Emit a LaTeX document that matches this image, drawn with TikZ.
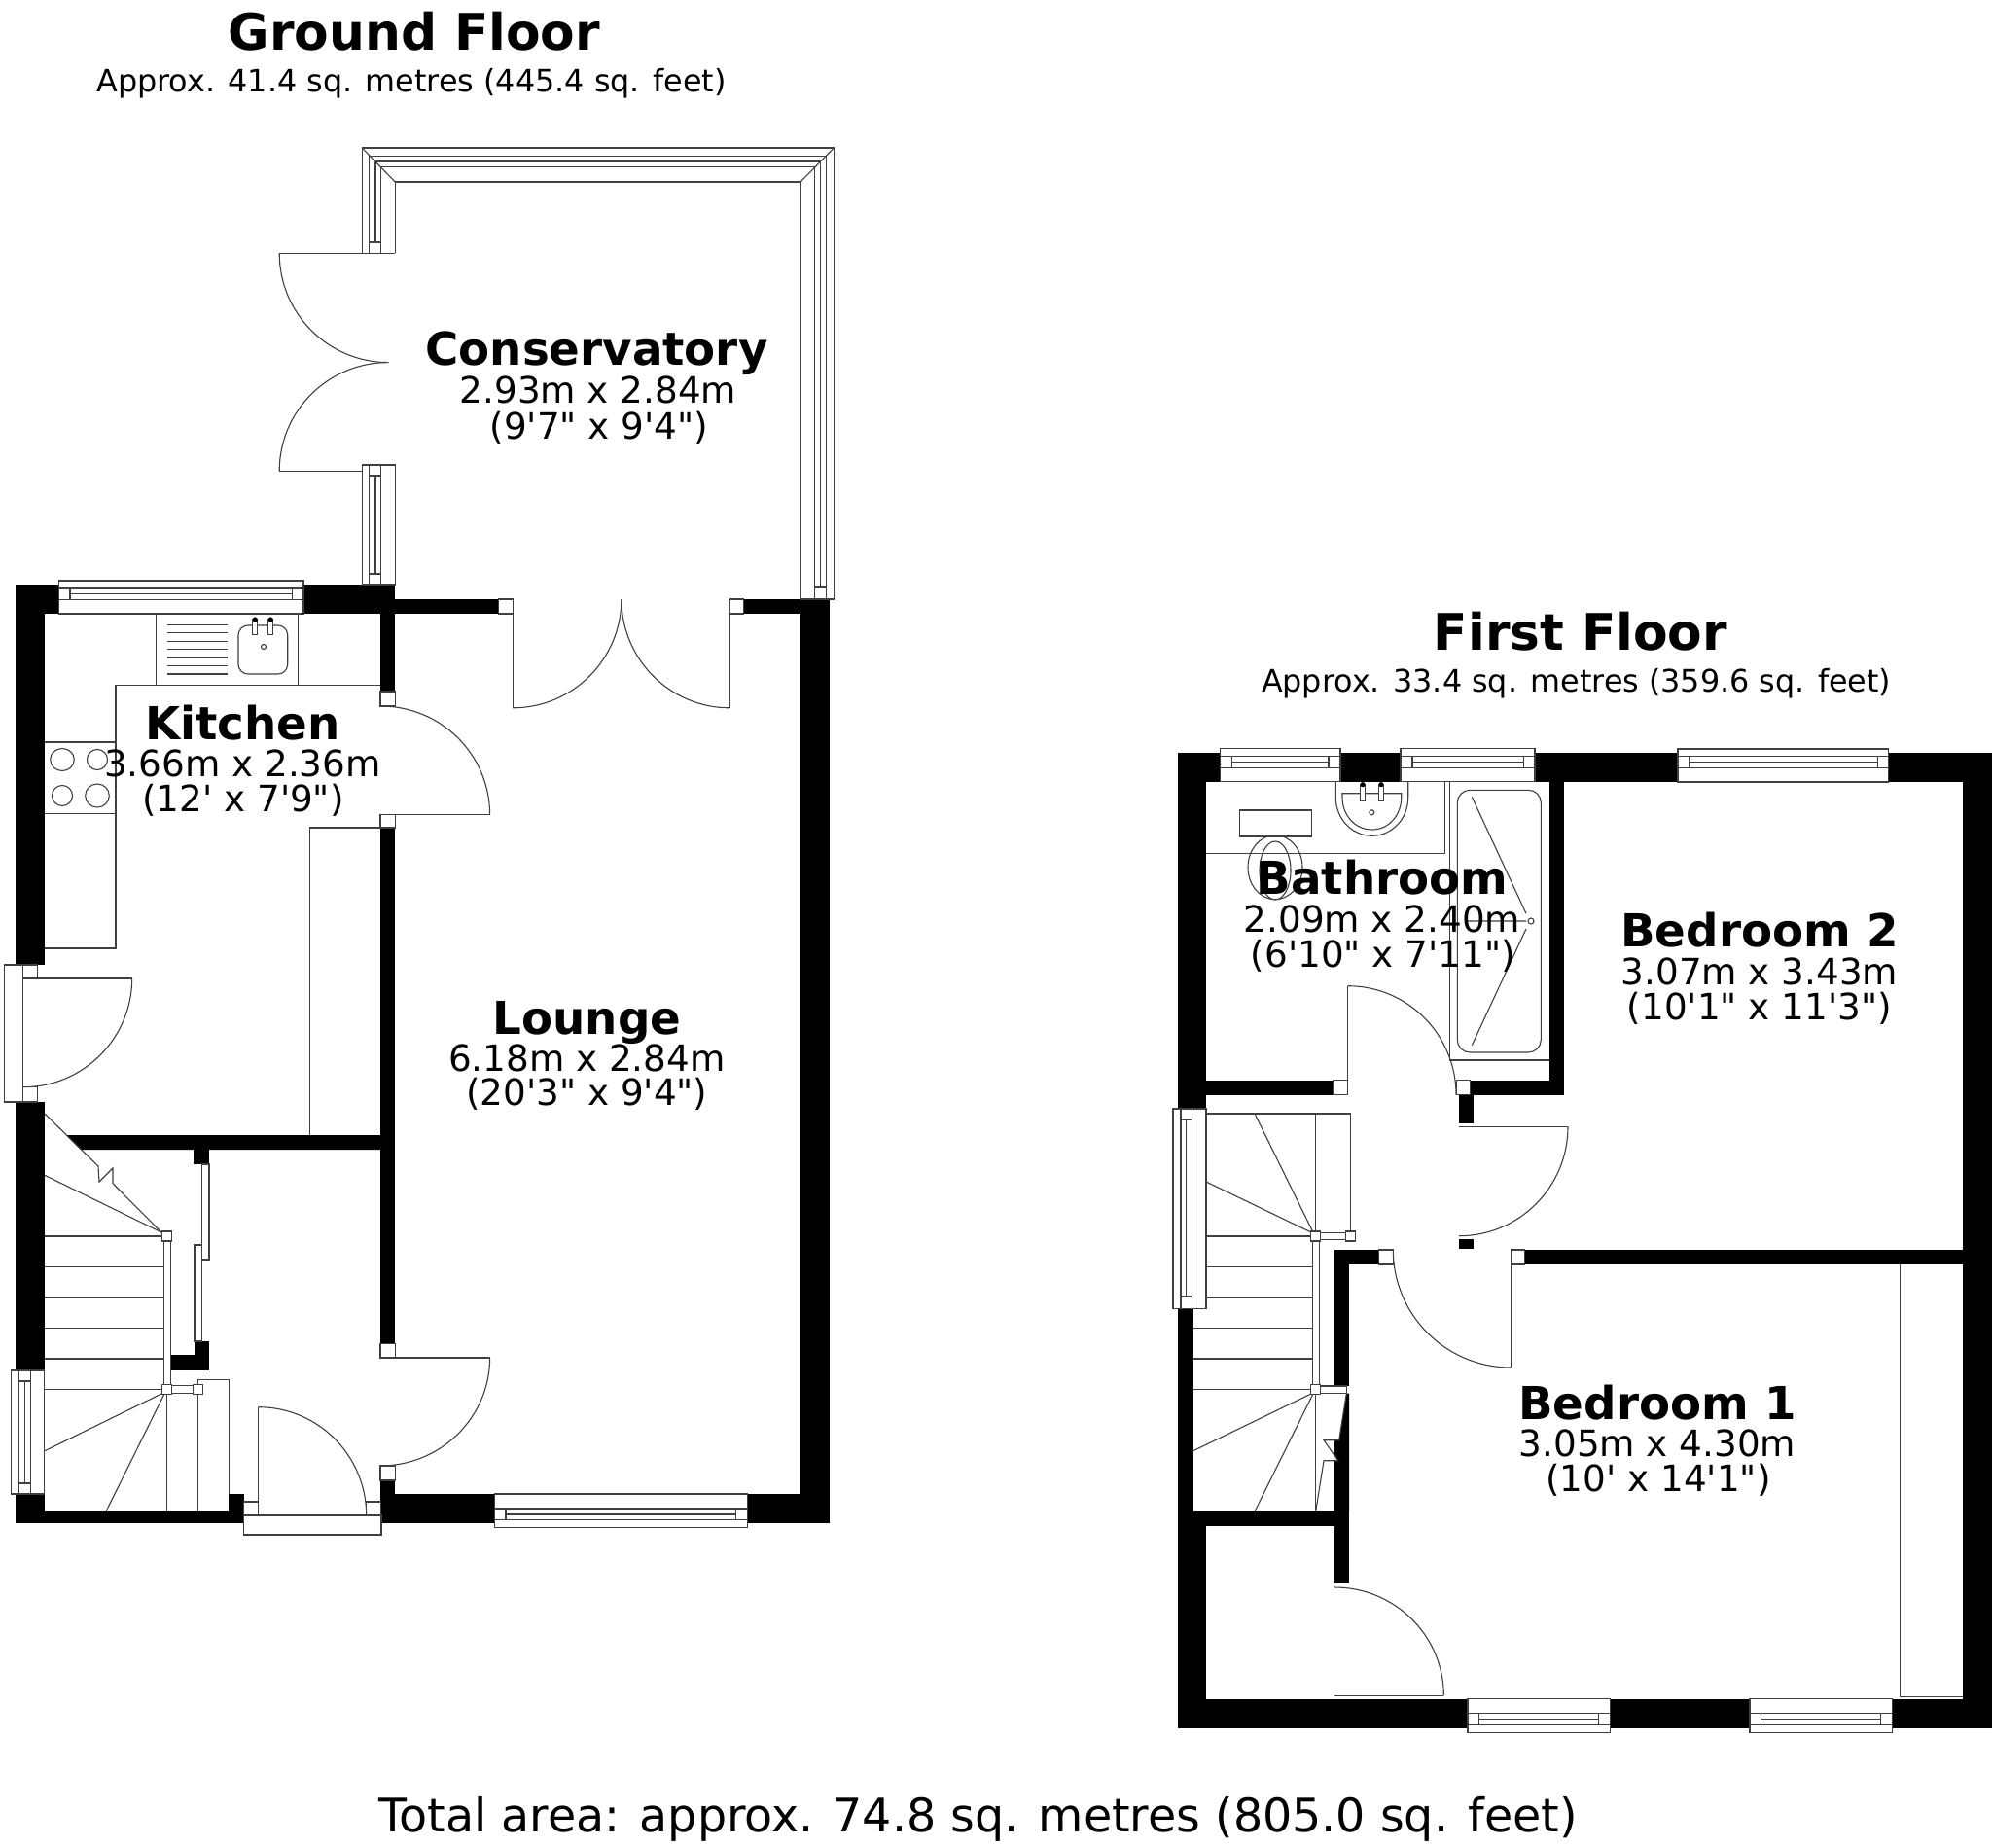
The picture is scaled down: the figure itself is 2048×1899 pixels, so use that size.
\documentclass[tikz,border=0pt]{standalone}
\usepackage{fontspec}
\usetikzlibrary{calc}
\newfontfamily\planfont{DejaVu Sans}
\definecolor{linecol}{gray}{0.25}
\tikzset{
  x=0.5pt,y=-0.5pt,
  ln/.style={line width=0.55pt,draw=linecol},
  wall/.style={fill=black,draw=none},
  white box/.style={ln,fill=white},
  roomname/.style={anchor=base,inner sep=0pt,font=\planfont\bfseries\fontsize{23.35pt}{25pt}\selectfont},
  roomdim/.style={anchor=base,inner sep=0pt,font=\planfont\fontsize{18.65pt}{20pt}\selectfont},
  floorname/.style={anchor=base,inner sep=0pt,font=\planfont\bfseries\fontsize{25.9pt}{28pt}\selectfont},
  floorarea/.style={anchor=base,inner sep=0pt,font=\planfont\fontsize{15.9pt}{18pt}\selectfont},
  totalarea/.style={anchor=base,inner sep=0pt,font=\planfont\fontsize{23.76pt}{25pt}\selectfont},
}
% quarter arc from P to Q around centre C
\newcommand{\qarc}[3]{\draw[ln] (#1) .. controls ($(#1)+0.5523*(#3)-0.5523*(#2)$) and ($(#3)+0.5523*(#1)-0.5523*(#2)$) .. (#3);}
\newcommand{\wrect}[4]{\draw[white box] (#1,#2) rectangle (#3,#4);}
\newcommand{\brect}[4]{\fill[wall] (#1,#2) rectangle (#3,#4);}
% horizontal window: x0 x1 top bot l1 l2 mid ix0 ix1
\newcommand{\winh}[9]{\draw[white box] (#1,#3) rectangle (#2,#4);
  \draw[ln] (#1,#5)--(#2,#5) (#1,#6)--(#2,#6) (#8,#5)--(#8,#6) (#9,#5)--(#9,#6) (#8,#7)--(#9,#7);}
% vertical window: y0 y1 left right l1 l2 mid iy0 iy1
\newcommand{\winv}[9]{\draw[white box] (#3,#1) rectangle (#4,#2);
  \draw[ln] (#5,#1)--(#5,#2) (#6,#1)--(#6,#2) (#5,#8)--(#6,#8) (#5,#9)--(#6,#9) (#7,#8)--(#7,#9);}
\newcommand{\newel}[2]{\draw[white box] ($(#1,#2)+(-5,-5)$) rectangle ($(#1,#2)+(5,5)$);}
\newcommand{\tap}[3]{\draw[white box] (#1-2.5,#2) rectangle (#1+2.5,#3); \fill[black] (#1,#2) circle[radius=2.6];}
\begin{document}
\begin{tikzpicture}
\useasboundingbox (0,0) rectangle (2048,1899);
\fill[white] (0,0) rectangle (2048,1899);

%% ---------- GROUND FLOOR walls
\brect{16}{601}{46}{992}
\brect{16}{601}{60.3}{631}
\brect{312}{601}{406.2}{631}
\brect{406}{616}{512.2}{631}
\brect{391}{631}{406.2}{711}
\brect{391}{851}{406.2}{1381.7}
\fill[wall] (68,1167)--(391,1167)--(391,1182)--(83,1182)--cycle;
\brect{16}{1133}{46}{1409}
\brect{16}{1536}{46}{1566}
\brect{16}{1554}{250.7}{1566}
\brect{235}{1536}{250.7}{1566}
\brect{391}{1522}{406.2}{1566}
\brect{391}{1536}{508.3}{1566}
\brect{768.3}{1536}{852.9}{1566}
\brect{823}{616}{852.9}{1566}
\brect{764.8}{616}{852.9}{631}
\brect{199.3}{1182}{215}{1197}
\brect{200}{1379}{215}{1408.7}
\brect{175.7}{1393}{215}{1408.7}

%% conservatory frame
\draw[ln] (372.2,260.4)--(372.2,152)--(857.4,152)--(857.4,616)--(823,616);
\draw[ln] (379.8,260.4)--(379.8,160.4)--(849.8,160.4)--(849.8,616);
\draw[ln] (391.7,260.4)--(391.7,171.8)--(837.5,171.8)--(837.5,616);
\draw[ln] (406.2,260.4)--(406.2,187)--(823,187)--(823,616);
\draw[ln] (386,249)--(386,166)--(843.5,166)--(843.5,604);
\draw[ln] (372.2,152)--(406.2,187) (857.4,152)--(823,187);
\draw[ln] (379.8,249)--(391.7,249) (837.5,604)--(849.8,604);
\winv{478}{601}{372.2}{406.2}{379.8}{391.7}{386}{489}{590}
\draw[ln] (287.2,260.4)--(406.2,260.4) (287.2,484.2)--(372.2,484.2);
\qarc{287.2,260.4}{399.4,260.4}{399.4,372.6}
\qarc{287.2,484.2}{399.4,484.2}{399.4,372.6}

%% lounge french doors
\wrect{512.2}{616}{527.2}{631}
\wrect{750.3}{616}{764.8}{631}
\draw[ln] (527.2,616)--(527.2,727.8) (750.3,616)--(750.3,727.8);
\qarc{527.2,727.8}{527.2,616}{638.9,616}
\qarc{750.3,727.8}{750.3,616}{638.9,616}

%% kitchen units
\draw[ln] (391,704.4)--(119,704.4)--(119,975)--(46,975);
\draw[ln] (46,763)--(119,763) (46,836.4)--(119,836.4);
\draw[ln] (64,781) circle[x radius=12.3,y radius=11.5];
\draw[ln] (100,781) circle[x radius=10.5,y radius=10.5];
\draw[ln] (64,818) circle[x radius=10.5,y radius=10.5];
\draw[ln] (100,818) circle[x radius=12.3,y radius=12];
\draw[ln] (160.3,631)--(160.3,704.4) (306.7,631)--(306.7,704.4);
\foreach \yy in {642.4,650.8,659.2,667.6,676,684.4,693}{\draw[ln] (172,\yy)--(234,\yy);}
\draw[ln,rounded corners=5pt] (245,643) rectangle (295.7,693);
\tap{262.3}{637}{652.7}
\tap{278.3}{637}{652.7}
\draw[ln] (271,665) circle[radius=2.5];
\draw[ln] (318.3,1167)--(318.3,851)--(391,851);

%% kitchen window
\winh{60.3}{312}{597}{631}{605}{616.7}{610.8}{72}{300.7}

%% kitchen door
\wrect{391}{711}{406.2}{726}
\wrect{391}{837.6}{406.2}{851}
\draw[ln] (391,837.6)--(503.6,837.6);
\qarc{391,726}{391,838}{503.6,837.6}

%% back door
\wrect{4.3}{992}{23.7}{1133}
\wrect{23.7}{992}{38.3}{1006}
\wrect{23.7}{1117.7}{38.3}{1133}
\draw[ln] (23.7,1006)--(135.7,1006);
\qarc{135.7,1006}{23.7,1006}{23.7,1117.7}

%% lounge door from hall
\wrect{391}{1381.7}{406.2}{1396}
\wrect{391}{1507}{406.2}{1522}
\draw[ln] (391,1396)--(503.6,1396);
\qarc{503.6,1396}{391,1396}{391,1507}

%% front door
\wrect{250.7}{1558}{392}{1578}
\wrect{250.7}{1544}{265.7}{1558}
\wrect{376.7}{1544}{391.7}{1558}
\draw[ln] (265.7,1558)--(265.7,1446.7);
\qarc{265.7,1446.7}{265.7,1558}{376.7,1558}

%% lounge window
\winh{508.3}{768.3}{1536}{1570.7}{1551}{1562.7}{1557}{520}{756.7}

%% sliding door
\wrect{207.3}{1197}{215}{1295}
\wrect{200}{1280}{207.3}{1379}

%% ground stairs
\foreach \yy in {1271,1302.7,1334,1365.7,1397,1428.7}{\draw[ln] (46,\yy)--(168.3,\yy);}
\draw[ln] (46,1208.3)--(166,1267);
\draw[ln] (46,1145)--(101,1199)--(102,1215)--(116,1201)--(116,1216.7)--(166,1267);
\draw[ln] (46,1491.7)--(166,1433) (109,1554)--(169,1433);
\draw[ln] (171.7,1433)--(171.7,1554) (203.7,1433)--(203.7,1554);
\draw[ln] (203.7,1424)--(203.7,1418.7)--(235.7,1418.7)--(235.7,1536);
\wrect{168.3}{1276}{175.7}{1424}
\wrect{176}{1424.5}{198.5}{1432.7}
\newel{171.7}{1271}
\newel{171.7}{1428.7}
\newel{203.7}{1428.7}
\winv{1409}{1536}{11.3}{45.3}{19.3}{31.3}{25.3}{1420}{1525}

%% ---------- FIRST FLOOR walls
\brect{1211}{774}{1240}{1140}
\brect{1211}{774}{1254.7}{804}
\brect{1378}{774}{1440}{804}
\brect{1578}{774}{1725}{804}
\brect{1941.7}{774}{2047.6}{804}
\brect{2017.5}{774}{2047.6}{1777}
\brect{1592.7}{804}{1607.7}{1125.7}
\brect{1240}{1110.7}{1371}{1125.7}
\brect{1511.7}{1110.7}{1607.7}{1125.7}
\brect{1500}{1125.7}{1515}{1155}
\brect{1500}{1273.7}{1515}{1284}
\brect{1372}{1285}{1417.7}{1300}
\brect{1567.3}{1285}{2047.6}{1300}
\brect{1372}{1285}{1387}{1425}
\fill[wall] (1387,1432.7)--(1384.3,1432.7)--(1376.7,1480.7)--(1372,1480.7)--(1372,1495)--(1375.7,1501.7)--(1372,1501.7)--(1372,1554)--(1387,1554)--cycle;
\brect{1211}{1345}{1226.7}{1777}
\brect{1211}{1569}{1240}{1777}
\brect{1226}{1554}{1387}{1569}
\brect{1372}{1569}{1387}{1628.3}
\brect{1211}{1746.7}{1509}{1777}
\brect{1655.3}{1746.7}{1799}{1777}
\brect{1945.3}{1746.7}{2047.6}{1777}

%% windows first floor
\winh{1254.7}{1378}{769.3}{803.7}{777.3}{789.3}{783.3}{1266.3}{1366}
\winh{1440}{1578}{769.3}{803.7}{777.3}{789.3}{783.3}{1452}{1566.7}
\winh{1725}{1941.7}{770}{804}{777.7}{789.3}{783.3}{1736.7}{1930.3}
\winh{1509}{1655.3}{1746.7}{1781.3}{1761.7}{1773.7}{1767.7}{1520.3}{1643.7}
\winh{1799}{1945.3}{1746.7}{1781.3}{1761.7}{1773.7}{1767.7}{1810.3}{1933.7}

%% bathroom fittings
\draw[ln] (1240,877.3)--(1485.7,877.3)--(1485.7,804);
\draw[ln] (1490.7,804)--(1490.7,1090)--(1592.7,1090);
\draw[ln,rounded corners=6.5pt] (1498.3,812.3) rectangle (1584.3,1082);
\draw[ln] (1574,947) circle[radius=3];
\draw[ln] (1513.3,819.3)--(1569,939.3) (1513.3,1074.7)--(1569,955) (1508,947)--(1569,947);
\draw[ln] (1373.3,804)--(1373.3,820) .. controls (1373.3,842) and (1390,859.3) .. (1410.5,859.3) .. controls (1431,859.3) and (1447.7,842) .. (1447.7,820)--(1447.7,804);
\draw[ln] (1380,815.7)--(1440.7,815.7)--(1440.7,820) .. controls (1440.7,838) and (1428,853) .. (1410.5,853) .. controls (1393,853) and (1380,838) .. (1380,820)--cycle;
\tap{1401}{806.7}{823.3}
\tap{1420}{806.7}{823.3}
\draw[ln] (1410.3,835.3) circle[radius=2.5];
\draw[ln] (1311,891.7) circle[x radius=28,y radius=33];
\draw[ln] (1311,895) circle[x radius=16,y radius=30];
\wrect{1274.3}{833}{1348.3}{860}

%% bathroom door
\wrect{1371}{1110.7}{1385.7}{1125.7}
\wrect{1497.3}{1110.7}{1511.7}{1125.7}
\draw[ln] (1385.7,1110.7)--(1385.7,1013.7);
\qarc{1385.7,1013.7}{1385.7,1125.7}{1497,1125.7}

%% bedroom 2 door
\draw[ln] (1500,1158.3)--(1612,1158.3);
\qarc{1612,1158.3}{1500,1158.3}{1500,1270.7}

%% bedroom 1 door
\wrect{1417.7}{1285}{1432.3}{1300}
\wrect{1553.3}{1285}{1567.3}{1300}
\draw[ln] (1553.3,1300)--(1553.3,1406);
\qarc{1432.3,1285}{1553.3,1285}{1553.3,1406}

%% cupboard door
\draw[ln] (1372,1743.3)--(1484.3,1743.3);
\qarc{1372,1632}{1372,1743.3}{1484.3,1743.3}

%% wardrobe
\draw[ln] (1953.3,1300)--(1953.3,1744.3)--(2017.5,1744.3);

%% first floor stairs
\draw[ln] (1240,1145)--(1388.3,1145)--(1388.3,1267);
\draw[ln] (1352.7,1145)--(1352.7,1267);
\foreach \yy in {1271,1302.3,1334}{\draw[ln] (1240,\yy)--(1349.7,\yy);}
\foreach \yy in {1365.7,1397,1428.7}{\draw[ln] (1226.7,\yy)--(1349.7,\yy);}
\draw[ln] (1240,1215)--(1348,1267) (1290,1145)--(1350,1267);
\draw[ln] (1226.7,1491.7)--(1348,1433) (1290,1554)--(1350,1433);
\draw[ln] (1352.7,1433)--(1352.7,1554);
\draw[ln] (1384.3,1432.7)--(1376.7,1480.7)--(1361,1480.7)--(1375.7,1501.7)--(1361,1501.7)--(1352.7,1554);
\wrect{1349.7}{1276}{1356.7}{1424}
\wrect{1357}{1267.7}{1384}{1274.7}
\wrect{1357}{1425}{1384.3}{1432.7}
\newel{1352.7}{1271}
\newel{1388.3}{1271}
\newel{1352.7}{1428.7}
\winv{1140}{1345.3}{1206}{1240}{1214}{1225.7}{1219.7}{1151.7}{1333}

%% ---------- TEXT
\node[floorname] (groundtitle) at (425.8,52) {Ground Floor};
\node[floorarea] (groundarea) at (423,95) {Approx. 41.4 sq. metres (445.4 sq. feet)};
\node[floorname] (firsttitle) at (1625,668) {First Floor};
\node[floorarea] (firstarea) at (1620.7,711) {Approx. 33.4 sq. metres (359.6 sq. feet)};
\node[totalarea] (total) at (1005.6,1883) {Total area: approx. 74.8 sq. metres (805.0 sq. feet)};

\node[roomname] (consname) at (613.5,375) {Conservatory};
\node[roomdim] (consdim) at (615,414) {2.93m x 2.84m};
\node[roomdim] (consimp) at (616,451) {(9'7" x 9'4")};

\node[roomname] (kitname) at (249.5,760) {Kitchen};
\node[roomdim] (kitdim) at (249.5,798) {3.66m x 2.36m};
\node[roomdim] (kitimp) at (250,834) {(12' x 7'9")};

\node[roomname] (louname) at (603.4,1063) {Lounge};
\node[roomdim] (loudim) at (603.4,1101) {6.18m x 2.84m};
\node[roomdim] (louimp) at (603.4,1136) {(20'3" x 9'4")};

\node[roomname] (bathname) at (1421,919) {Bathroom};
\node[roomdim] (bathdim) at (1421,958) {2.09m x 2.40m};
\node[roomdim] (bathimp) at (1422,994) {(6'10" x 7'11")};

\node[roomname] (bedtwoname) at (1809,973) {Bedroom 2};
\node[roomdim] (bedtwodim) at (1809,1012) {3.07m x 3.43m};
\node[roomdim] (bedtwoimp) at (1809,1048) {(10'1" x 11'3")};

\node[roomname] (bedonename) at (1704,1459) {Bedroom 1};
\node[roomdim] (bedonedim) at (1704,1497) {3.05m x 4.30m};
\node[roomdim] (bedoneimp) at (1705,1533) {(10' x 14'1")};
\end{tikzpicture}
\end{document}
